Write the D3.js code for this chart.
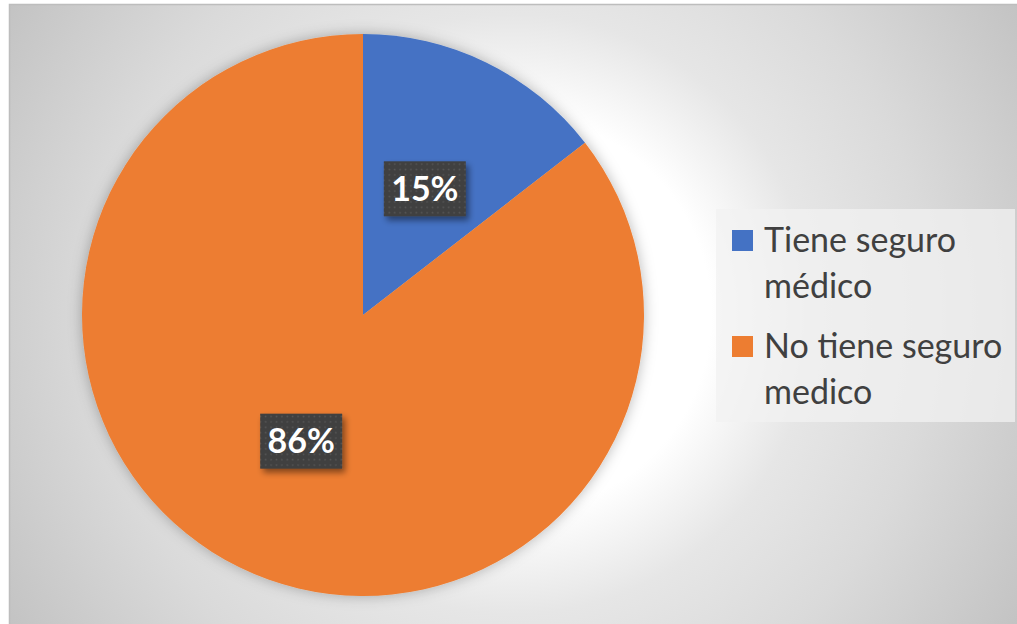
<!DOCTYPE html>
<html>
<head>
<meta charset="utf-8">
<script src="https://cdn.jsdelivr.net/npm/d3@7"></script>
<style>
  html, body { margin: 0; padding: 0; background: #ffffff; }
  svg { display: block; }
</style>
</head>
<body>
<div id="chart"></div>
<script>
// === DATA ===
const categories = ['Tiene seguro médico', 'No tiene seguro medico'];
const values = [14.5, 85.5];
const colors = ['#4472C4', '#ED7D31'];

// === LAYOUT ===
const width = 1017;
const height = 624;
const cx = 363, cy = 315, radius = 281;

const svg = d3.select('#chart')
    .append('svg')
    .attr('width', width)
    .attr('height', height);

const defs = svg.append('defs');

// chart area background: radial grey-to-white gradient
const bg = defs.append('radialGradient')
    .attr('id', 'bg')
    .attr('gradientUnits', 'userSpaceOnUse')
    .attr('cx', 513).attr('cy', 314).attr('r', 600);
[[0, '#ffffff'], [0.33, '#ffffff'], [0.5, '#e6e6e6'], [0.7, '#dadada'], [1, '#c2c2c2']]
    .forEach(s => bg.append('stop').attr('offset', s[0]).attr('stop-color', s[1]));

// soft halo around the pie
const pieShadow = defs.append('filter')
    .attr('id', 'pieShadow')
    .attr('x', '-10%').attr('y', '-10%').attr('width', '120%').attr('height', '120%');
pieShadow.append('feDropShadow')
    .attr('dx', 0).attr('dy', 0)
    .attr('stdDeviation', 7)
    .attr('flood-color', '#000')
    .attr('flood-opacity', 0.28);

// drop shadow for the data label boxes
const boxShadow = defs.append('filter')
    .attr('id', 'boxShadow')
    .attr('x', '-20%').attr('y', '-20%').attr('width', '150%').attr('height', '160%');
boxShadow.append('feDropShadow')
    .attr('dx', 3).attr('dy', 4)
    .attr('stdDeviation', 3)
    .attr('flood-color', '#000')
    .attr('flood-opacity', 0.45);

// dotted fill for the label boxes
const dots = defs.append('pattern')
    .attr('id', 'dots')
    .attr('patternUnits', 'userSpaceOnUse')
    .attr('width', 5.4).attr('height', 5.4);
dots.append('rect').attr('width', 5.4).attr('height', 5.4).attr('fill', '#3f3f3f');
dots.append('rect').attr('x', 1.5).attr('y', 1.5).attr('width', 1.6).attr('height', 1.6).attr('fill', '#575757');

// chart area
svg.append('rect')
    .attr('x', 9.5).attr('y', 4.5)
    .attr('width', width + 20).attr('height', height + 20)
    .attr('fill', 'url(#bg)')
    .attr('stroke', '#bdbdbd')
    .attr('stroke-width', 1.5);

// === PIE ===
const color = d3.scaleOrdinal().domain(categories).range(colors);

const pie = d3.pie().sort(null).value(d => d.value);
const arcs = pie(categories.map((c, i) => ({ name: c, value: values[i] })));

const arc = d3.arc().innerRadius(0).outerRadius(radius);

const g = svg.append('g').attr('transform', `translate(${cx},${cy})`);

g.append('g')
    .attr('filter', 'url(#pieShadow)')
    .selectAll('path')
    .data(arcs)
    .enter()
    .append('path')
    .attr('d', arc)
    .attr('fill', d => color(d.data.name));

// data labels (Excel rounds half away from zero)
const total = d3.sum(values);
const pct = v => Math.round(+(v / total * 100).toFixed(6)) + '%';
const labelW = 82, labelH = 55;
const lab = g.selectAll('g.label')
    .data(arcs)
    .enter()
    .append('g')
    .attr('class', 'label')
    .attr('transform', d => `translate(${arc.centroid(d)})`);

lab.append('rect')
    .attr('x', -labelW / 2).attr('y', -labelH / 2)
    .attr('width', labelW).attr('height', labelH)
    .attr('fill', 'url(#dots)')
    .attr('filter', 'url(#boxShadow)');

lab.append('text')
    .attr('text-anchor', 'middle')
    .attr('dy', '0.36em')
    .attr('font-family', 'Lato, "Open Sans", sans-serif')
    .attr('font-weight', 'bold')
    .attr('font-size', '34px')
    .attr('fill', '#ffffff')
    .text(d => pct(d.data.value));

// === LEGEND ===
const legend = svg.append('g');
legend.append('rect')
    .attr('x', 716).attr('y', 209)
    .attr('width', 299).attr('height', 213)
    .attr('fill', '#f2f2f2')
    .attr('fill-opacity', 0.75);

const legendY = d3.scaleLinear().domain([0, 1]).range([230, 336]);

const item = legend.selectAll('g.item')
    .data(categories)
    .enter()
    .append('g')
    .attr('class', 'item')
    .attr('transform', (d, i) => `translate(732,${legendY(i)})`);

item.append('rect')
    .attr('width', 21).attr('height', 21)
    .attr('fill', d => color(d));

item.append('text')
    .attr('font-family', 'Lato, "Open Sans", sans-serif')
    .attr('font-size', '34px')
    .attr('fill', '#404040')
    .each(function(d) {
        const cut = d.lastIndexOf(' ');
        const lines = [d.slice(0, cut), d.slice(cut + 1)];
        d3.select(this).selectAll('tspan')
            .data(lines)
            .enter()
            .append('tspan')
            .attr('x', 32)
            .attr('y', (l, j) => 22 + j * 45.5)
            .text(l => l);
    });
</script>
</body>
</html>
